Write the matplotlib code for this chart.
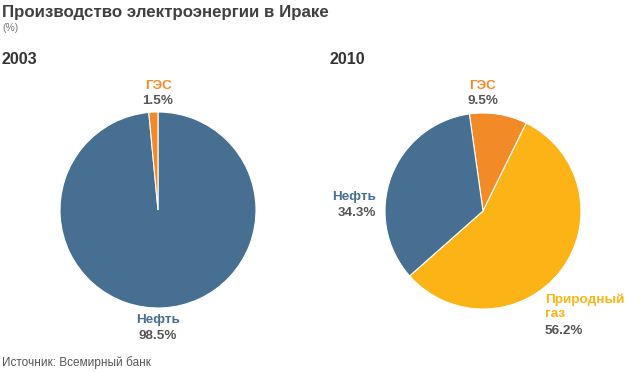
import matplotlib
matplotlib.use("Agg")
import matplotlib.pyplot as plt

plt.rcParams['font.family'] = ['Liberation Sans', 'DejaVu Sans']

title = "Производство электроэнергии в Ираке"
subtitle = "(%)"
source = "Источник: Всемирный банк"

years = ["2003", "2010"]
labels_2003 = ["Нефть", "ГЭС"]
values_2003 = [98.5, 1.5]
labels_2010 = ["ГЭС", "Природный\nгаз", "Нефть"]
values_2010 = [9.5, 56.2, 34.3]

C_OIL = "#476f91"
C_HYDRO = "#f28a28"
C_GAS = "#fbb316"
C_TXT = "#555555"

W, H = 640, 372
fig = plt.figure(figsize=(W / 100, H / 100), dpi=100)

def px_axes(cx, cy, r):
    return fig.add_axes([(cx - r) / W, (H - cy - r) / H, 2 * r / W, 2 * r / H])

def ftext(x, y, s, **kw):
    fig.text(x / W, 1 - y / H, s, **kw)

# Pie 2003
ax1 = px_axes(158, 210, 98)
ax1.pie(values_2003, colors=[C_OIL, C_HYDRO], startangle=90, counterclock=False,
        radius=1, wedgeprops=dict(edgecolor="white", linewidth=0.8))
ax1.set_xlim(-1, 1); ax1.set_ylim(-1, 1); ax1.set_aspect("equal"); ax1.axis("off")

# Pie 2010
ax2 = px_axes(483, 211, 98)
ax2.pie(values_2010, colors=[C_HYDRO, C_GAS, C_OIL], startangle=98, counterclock=False,
        radius=1, wedgeprops=dict(edgecolor="white", linewidth=0.8))
ax2.set_xlim(-1, 1); ax2.set_ylim(-1, 1); ax2.set_aspect("equal"); ax2.axis("off")

# Titles
ftext(2, 12, title, fontsize=12.2, fontweight="bold", color="#404040", va="center", ha="left")
ftext(2, 28, subtitle, fontsize=7.5, color="#777777", va="center", ha="left")
ftext(2, 60, years[0], fontsize=11.5, fontweight="bold", color="#333333", va="center", ha="left")
ftext(330, 60, years[1], fontsize=11.5, fontweight="bold", color="#333333", va="center", ha="left")
ftext(2, 363, source, fontsize=8.5, color="#555555", va="center", ha="left")

lab = dict(fontsize=9.7, fontweight="bold", va="center")

# 2003 labels
ftext(158, 86, labels_2003[1], color=C_HYDRO, ha="center", **lab)
ftext(158, 101, f"{values_2003[1]}%", color=C_TXT, ha="center", **lab)
ftext(158, 320, labels_2003[0], color=C_OIL, ha="center", **lab)
ftext(158, 336, f"{values_2003[0]}%", color=C_TXT, ha="center", **lab)

# 2010 labels
ftext(483, 86, labels_2010[0], color=C_HYDRO, ha="center", **lab)
ftext(483, 101, f"{values_2010[0]}%", color=C_TXT, ha="center", **lab)
ftext(376, 197, labels_2010[2], color=C_OIL, ha="right", **lab)
ftext(376, 213, f"{values_2010[2]}%", color=C_TXT, ha="right", **lab)
ftext(545, 307, labels_2010[1], color=C_GAS, ha="left", fontsize=9.7, fontweight="bold",
      va="center", linespacing=1.25)
ftext(545, 331, f"{values_2010[1]}%", color=C_TXT, ha="left", **lab)

fig.savefig("out.png", dpi=100, facecolor="white")
